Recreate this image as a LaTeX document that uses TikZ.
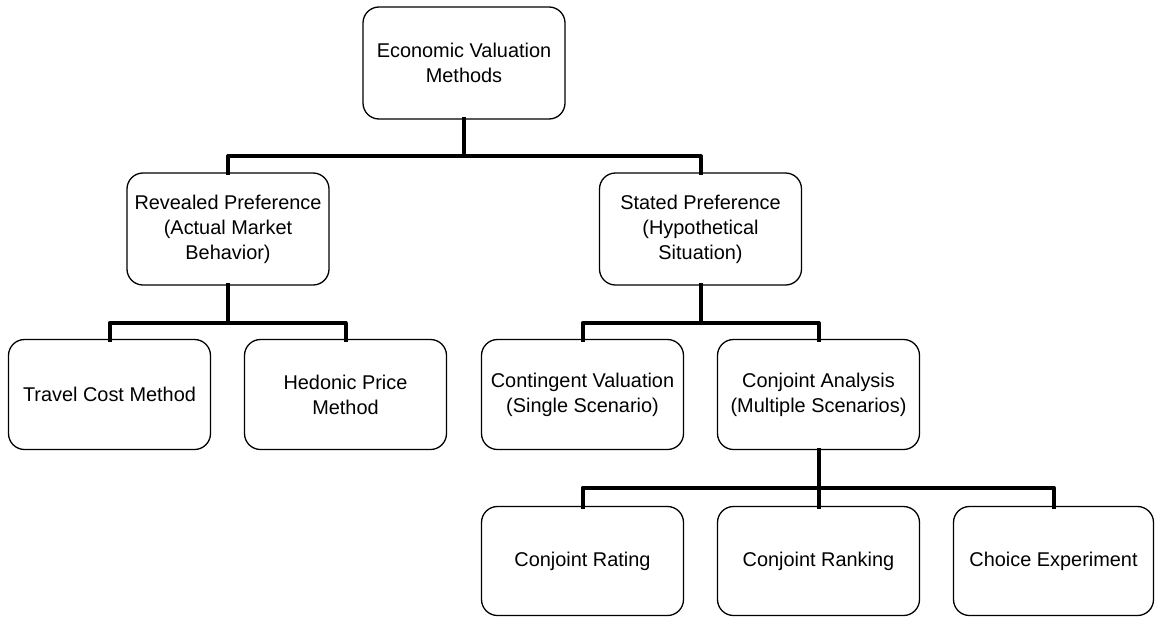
\documentclass[tikz,border=0pt]{standalone}
\usepackage{fontspec}
\setmainfont{Liberation Sans}
\usetikzlibrary{positioning,calc}
\tikzset{
    every picture/.style={line join=round},
    methodbox/.style={draw=black,fill=white,line width=1.3pt,rounded corners=16pt,
      minimum width=202pt,minimum height=110pt,inner sep=3pt,outer sep=0pt,
      align=center,font=\fontsize{19.9}{25}\selectfont},
    treelink/.style={draw=black,line width=4pt,line cap=rect}
}

\begin{document}
\begin{tikzpicture}[x=1pt,y=-1pt,node distance=34pt]
  \useasboundingbox (0,0) rectangle (1155,616);
  % bottom of the revealed / stated branches
  \node[methodbox] (travel) at (109.5,394.5) {Travel Cost Method};
  \node[methodbox,right=of travel] (hedonic) {Hedonic Price\\Method};
  \node[methodbox,right=35pt of hedonic] (contingent)
    {Contingent Valuation\\(Single Scenario)};
  \node[methodbox,right=of contingent] (conjoint)
    {Conjoint Analysis\\(Multiple Scenarios)};

  % conjoint family
  \node[methodbox,minimum height=109pt,below=57pt of contingent] (rating) {Conjoint Rating};
  \node[methodbox,minimum height=109pt,right=of rating] (ranking) {Conjoint Ranking};
  \node[methodbox,minimum height=109pt,minimum width=200pt,right=of ranking] (choice)
    {Choice Experiment};

  % the two kinds of preference
  \node[methodbox,minimum height=112pt] (revealed) at (228,229)
    {Revealed Preference\\(Actual Market\\Behavior)};
  \node[methodbox,minimum height=112pt] (stated) at (700.5,229)
    {Stated Preference\\(Hypothetical\\Situation)};
  \node[methodbox,minimum height=112pt] (top) at (464,63)
    {Economic Valuation\\Methods};

  % tree connectors
  \draw[treelink] (top.south) -- ++(0,37) -| (revealed.north);
  \draw[treelink] (top.south) -- ++(0,37) -| (stated.north);
  \draw[treelink] (revealed.south) -- ++(0,38) -| (travel.north);
  \draw[treelink] (revealed.south) -- ++(0,38) -| (hedonic.north);
  \draw[treelink] (stated.south) -- ++(0,38) -| (contingent.north);
  \draw[treelink] (stated.south) -- ++(0,38) -| (conjoint.north);
  \draw[treelink] (conjoint.south) -- ++(0,38) -| (rating.north);
  \draw[treelink] (conjoint.south) -- (ranking.north);
  \draw[treelink] (conjoint.south) -- ++(0,38) -| (choice.north);
\end{tikzpicture}
\end{document}
